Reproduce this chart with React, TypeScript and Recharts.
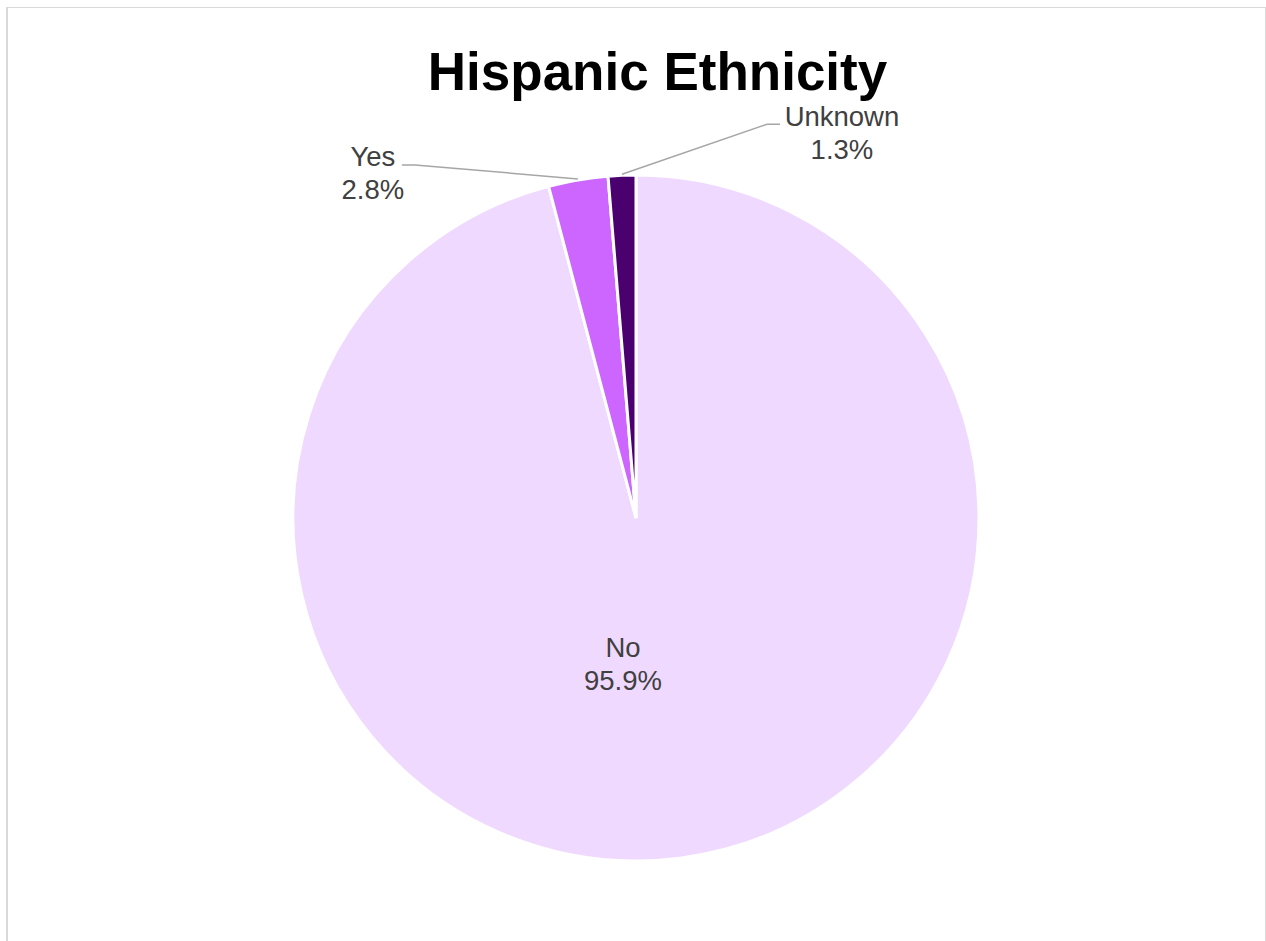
import React from "react";
import { PieChart, Pie, Cell } from "recharts";

const categories = ["No", "Yes", "Unknown"];
const percents = [95.9, 2.8, 1.3];
const colors = ["#F0D9FF", "#CC66FF", "#4B0070"];
const title = "Hispanic Ethnicity";

const data = categories.map((name, i) => ({ name, value: percents[i] }));

const FONT = "'Liberation Sans', Arial, Helvetica, sans-serif";
const RAD = Math.PI / 180;

// label placement styles (offsets relative to the slice's outer edge / centre)
const labelStyle: Record<string, any> = {
  No: { inside: true, dx: -13, dy: 139 },
  Yes: { elbow: [-163, -14], tail: -13, textDx: -29, textDy: 1 },
  Unknown: { elbow: [145, -50], tail: 13, textDx: 62, textDy: 2 },
};

const renderLabel = (props: any) => {
  const { cx, cy, midAngle, outerRadius, name, value } = props;
  const st = labelStyle[name];
  const text = `${Number(value).toFixed(1)}%`;
  const common = {
    fill: "#404040",
    fontSize: 27.5,
    fontFamily: FONT,
    textAnchor: "middle" as const,
  };
  if (st.inside) {
    const x = cx + st.dx;
    const y = cy + st.dy;
    return (
      <g key={name}>
        <text x={x} y={y} {...common}>{name}</text>
        <text x={x} y={y + 33} {...common}>{text}</text>
      </g>
    );
  }
  const sx = cx + (outerRadius + 1) * Math.cos(-midAngle * RAD);
  const sy = cy + (outerRadius + 1) * Math.sin(-midAngle * RAD);
  const ex = sx + st.elbow[0];
  const ey = sy + st.elbow[1];
  const tx = ex + st.tail;
  const lx = tx + st.textDx;
  const ly = ey + st.textDy;
  return (
    <g key={name}>
      <polyline
        points={`${sx},${sy} ${ex},${ey} ${tx},${ey}`}
        fill="none"
        stroke="#A6A6A6"
        strokeWidth={1.5}
      />
      <text x={lx} y={ly} {...common}>{name}</text>
      <text x={lx} y={ly + 33} {...common}>{text}</text>
    </g>
  );
};

export default function App() {
  return (
    <div
      style={{
        position: "absolute",
        left: 0,
        top: 0,
        width: 1266,
        height: 941,
        background: "#fff",
        overflow: "hidden",
      }}
    >
      <div
        style={{
          position: "absolute",
          left: 6,
          top: 7,
          width: 1257,
          height: 960,
          borderLeft: "2px solid #D9D9D9",
          borderTop: "1.5px solid #D9D9D9",
          borderRight: "1.5px solid #D9D9D9",
        }}
      />
      <div
        style={{
          position: "absolute",
          left: 0,
          width: 1315,
          top: 42,
          textAlign: "center",
          fontFamily: FONT,
          fontWeight: "bold",
          fontSize: 53,
          lineHeight: "60px",
          color: "#000",
        }}
      >
        {title}
      </div>
      <div style={{ position: "absolute", left: 0, top: 0 }}>
        <PieChart
          width={1266}
          height={941}
          margin={{ top: 0, right: 0, bottom: 0, left: 0 }}
        >
          <Pie
            data={data}
            dataKey="value"
            nameKey="name"
            cx={636}
            cy={518}
            outerRadius={343}
            startAngle={90}
            endAngle={-270}
            stroke="#FFFFFF"
            strokeWidth={3}
            label={renderLabel}
            labelLine={false}
            isAnimationActive={false}
          >
            {data.map((d, i) => (
              <Cell key={d.name} fill={colors[i]} />
            ))}
          </Pie>
        </PieChart>
      </div>
    </div>
  );
}
